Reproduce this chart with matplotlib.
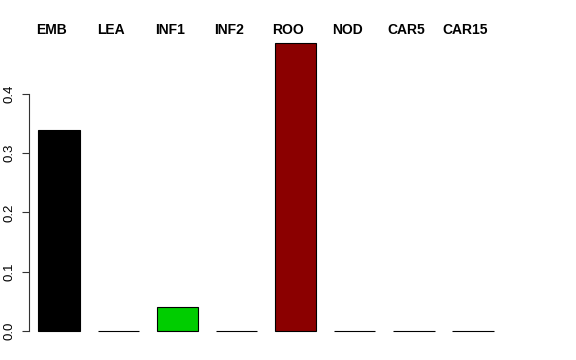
#!/usr/bin/env python3
"""Bar chart of tissue proportions in R base-graphics style."""

import matplotlib

matplotlib.use("Agg")
import matplotlib.pyplot as plt
import matplotlib.transforms as mtransforms

TISSUES = ["EMB", "LEA", "INF1", "INF2", "ROO", "NOD", "CAR5", "CAR15"]
VALUES = [0.34, 0.0, 0.04, 0.0, 0.486, 0.0, 0.0, 0.0]
COLORS = ["black", "#DF536B", "#00CD00", "#2297E6", "#8B0000", "#CD0BBC", "#F5C710", "gray"]
Y_TICKS = [0.0, 0.1, 0.2, 0.3, 0.4]

plt.rcParams["font.family"] = ["Liberation Sans", "DejaVu Sans"]

fig = plt.figure(figsize=(5.76, 3.6), dpi=100)
ax = fig.add_axes([29 / 576, 29 / 360, 518 / 576, 288 / 360])

xs = list(range(len(TISSUES)))
ax.bar(xs, VALUES, width=0.7, color=COLORS, edgecolor="black",
       linewidth=0.8, clip_on=False)

ax.set_xlim(-0.509, 8.25)
ax.set_ylim(0, max(VALUES))

for side in ("top", "right", "bottom"):
    ax.spines[side].set_visible(False)
ax.spines["left"].set_bounds(0, 0.4)
ax.spines["left"].set_linewidth(0.8)
ax.spines["left"].set_color("#333333")

ax.set_xticks([])
ax.set_yticks(Y_TICKS)
ax.set_yticklabels([f"{t:.1f}" for t in Y_TICKS], rotation=90, va="center",
                   fontsize=9.5)
ax.tick_params(axis="y", length=5, width=0.8, pad=5, color="#333333")

# tissue labels above the plot
trans = mtransforms.blended_transform_factory(ax.transData, fig.transFigure)
for x, name in zip(xs, TISSUES):
    ax.text(x - 0.13, 1 - 29.5 / 360, name, transform=trans, ha="center",
            va="center", fontsize=10, fontweight="bold")

fig.savefig("out.png", dpi=100)
